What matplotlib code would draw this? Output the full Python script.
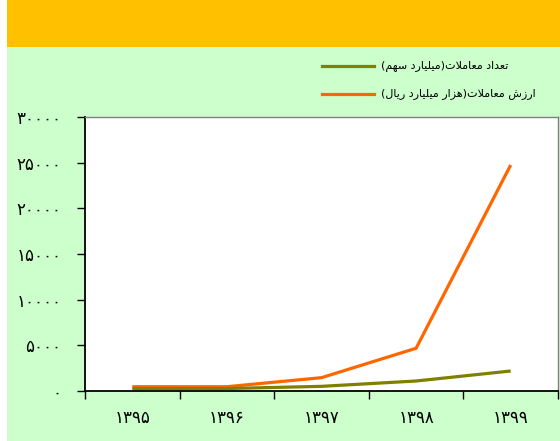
import matplotlib
import matplotlib.pyplot as plt
from matplotlib.lines import Line2D
from matplotlib.patches import Rectangle

matplotlib.use("Agg")

# --- Data ---
years = ["۱۳۹۵", "۱۳۹۶", "۱۳۹۷", "۱۳۹۸", "۱۳۹۹"]
trade_count = [250, 270, 510, 1095, 2190]  # تعداد معاملات (میلیارد سهم)
trade_value = [470, 470, 1460, 4680, 24745]  # ارزش معاملات (هزار میلیارد ریال)
y_ticks = [0, 5000, 10000, 15000, 20000, 25000, 30000]
label_count = "تعداد معاملات(میلیارد سهم)"
label_value = "ارزش معاملات(هزار میلیارد ریال)"

OLIVE = "#808000"
ORANGE = "#FF6600"
GREEN_BG = "#CCFFCC"
ORANGE_BAND = "#FFC000"

# --- Minimal Arabic/Persian shaping (matplotlib has no bidi support) ---
FORMS = {
    "ا": ("\uFE8D", "\uFE8E", None, None),
    "د": ("\uFEA9", "\uFEAA", None, None),
    "ر": ("\uFEAD", "\uFEAE", None, None),
    "ز": ("\uFEAF", "\uFEB0", None, None),
    "ت": ("\uFE95", "\uFE96", "\uFE97", "\uFE98"),
    "ع": ("\uFEC9", "\uFECA", "\uFECB", "\uFECC"),
    "م": ("\uFEE1", "\uFEE2", "\uFEE3", "\uFEE4"),
    "ل": ("\uFEDD", "\uFEDE", "\uFEDF", "\uFEE0"),
    "ی": ("\uFEEF", "\uFEF0", "\uFEF3", "\uFEF4"),
    "ش": ("\uFEB5", "\uFEB6", "\uFEB7", "\uFEB8"),
    "س": ("\uFEB1", "\uFEB2", "\uFEB3", "\uFEB4"),
    "ه": ("\uFEE9", "\uFEEA", "\uFEEB", "\uFEEC"),
}


def joins_left(c):
    return c in FORMS and FORMS[c][2] is not None


def shape(s):
    out = []
    i = 0
    while i < len(s):
        c = s[i]
        if c not in FORMS:
            out.append(c)
            i += 1
            continue
        connect_prev = i > 0 and joins_left(s[i - 1])
        if c == "ل" and i + 1 < len(s) and s[i + 1] == "ا":
            out.append("\uFEFC" if connect_prev else "\uFEFB")
            i += 2
            continue
        nxt = s[i + 1] if i + 1 < len(s) else ""
        connect_next = joins_left(c) and nxt in FORMS
        iso, fin, ini, med = FORMS[c]
        if connect_prev and connect_next:
            out.append(med)
        elif connect_prev:
            out.append(fin)
        elif connect_next:
            out.append(ini)
        else:
            out.append(iso)
        i += 1
    vis = "".join(reversed(out))
    return vis.translate(str.maketrans("()", ")("))


def fa_digits(v):
    return str(v).translate(str.maketrans("0123456789", "۰۱۲۳۴۵۶۷۸۹"))


# --- Figure ---
fig = plt.figure(figsize=(5.6, 4.41), dpi=100)
fig.patch.set_facecolor("white")
fig.add_artist(Rectangle((7 / 560, 0), 553 / 560, 394 / 441, transform=fig.transFigure,
                         facecolor=GREEN_BG, edgecolor="none", zorder=0))
fig.add_artist(Rectangle((7 / 560, 394 / 441), 553 / 560, 47 / 441, transform=fig.transFigure,
                         facecolor=ORANGE_BAND, edgecolor="none", zorder=0))

ax = fig.add_axes([85 / 560, 50 / 441, 473 / 560, 274 / 441])
ax.set_facecolor("white")

x = list(range(len(years)))
ax.plot(x, trade_value, color=ORANGE, lw=2.3, solid_capstyle="butt")
ax.plot(x, trade_count, color=OLIVE, lw=2.3, solid_capstyle="butt")

ax.set_xlim(-0.5, len(years) - 0.5)
ax.set_ylim(0, 30000)

# category boundaries as major ticks, labels on minor ticks
ax.set_xticks([i - 0.5 for i in range(len(years) + 1)])
ax.set_xticklabels([])
ax.set_xticks(x, minor=True)
ax.set_xticklabels(years, minor=True, fontsize=12)
ax.tick_params(axis="x", which="major", direction="out", length=6, width=1, color="black")
ax.tick_params(axis="x", which="minor", length=0, pad=13)

ax.set_yticks(y_ticks)
ax.set_yticklabels([fa_digits(v) for v in y_ticks], fontsize=12)
ax.tick_params(axis="y", direction="out", length=6, width=1, color="black", pad=11)

for side in ("left", "bottom"):
    ax.spines[side].set_color("black")
    ax.spines[side].set_linewidth(1.3)
for side in ("top", "right"):
    ax.spines[side].set_color("#808080")
    ax.spines[side].set_linewidth(1)

# --- Legend (drawn by hand, line left of right-to-left text) ---
legend_items = [(label_count, OLIVE, 66), (label_value, ORANGE, 94)]
for text, color, ypx in legend_items:
    yf = 1 - ypx / 441
    fig.add_artist(Line2D([322 / 560, 374 / 560], [yf, yf], color=color, lw=2.3,
                          transform=fig.transFigure))
    fig.text(381 / 560, yf, shape(text), ha="left", va="center", fontsize=8)

fig.savefig("out.png", dpi=100)
plt.close()
